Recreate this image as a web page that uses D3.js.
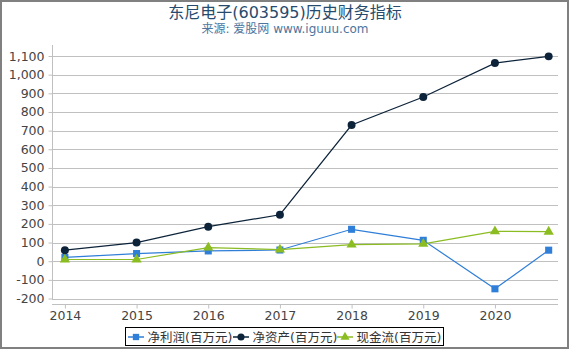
<!DOCTYPE html>
<html><head><meta charset="utf-8">
<script src="https://cdn.jsdelivr.net/npm/d3@7"></script>
<style>body{margin:0;background:#fff;}svg{display:block;font-family:"DejaVu Sans","Noto Sans CJK SC",sans-serif;}</style>
</head><body>
<svg id="c" width="570" height="350"></svg>
<script>
const years = [2014, 2015, 2016, 2017, 2018, 2019, 2020, 2020.75];
const tickYears = [2014, 2015, 2016, 2017, 2018, 2019, 2020];
const netProfit = [20, 41, 55, 60, 171, 112, -148, 59];
const netAssets = [59, 100, 185, 249, 730, 880, 1062, 1098];
const cashFlow = [9, 9, 73, 62, 89, 93, 160, 158];
const yTicks = [-200, -100, 0, 100, 200, 300, 400, 500, 600, 700, 800, 900, 1000, 1100];
const seriesNames = ["净利润(百万元)", "净资产(百万元)", "现金流(百万元)"];
const colors = ["#2f7ed8", "#0d233a", "#8bbc21"];

const svg = d3.select("#c");
svg.append("rect").attr("x",1).attr("y",1).attr("width",567).attr("height",347)
  .attr("fill","#fff").attr("stroke","#808080").attr("stroke-width",2);

const L=52, R=558, T=45, B=304;
const x = d3.scaleLinear().domain([2013.82, 2020.88]).range([L, R]);
const y = d3.scaleLinear().domain([-200, 1100]).range([298.5, 56]);
const fmt = d => d3.format(",")(d).replace("\u2212", "-");

// title
svg.append("text").attr("x",285).attr("y",18).attr("text-anchor","middle")
  .attr("fill","#274b6d").style("font-size","16px").text("东尼电子(603595)历史财务指标");
svg.append("text").attr("x",285).attr("y",33).attr("text-anchor","middle")
  .attr("fill","#4d759e").style("font-size","12px").text("来源: 爱股网 www.iguuu.com");

// grid
svg.append("g").selectAll("line").data(yTicks).join("line")
  .attr("x1",L).attr("x2",R).attr("y1",d=>Math.round(y(d))+0.5).attr("y2",d=>Math.round(y(d))+0.5)
  .attr("stroke","#c0c0c0").attr("stroke-width",1);

// y axis
const ya = svg.append("g").attr("transform",`translate(${L+0.5},0)`)
  .call(d3.axisLeft(y).tickValues(yTicks).tickSize(4).tickPadding(4).tickFormat(fmt));
ya.select(".domain").attr("stroke","#c0c0c0").attr("d",`M-0,${T}V300`);
ya.selectAll(".tick line").attr("stroke","#c0c0c0");
ya.selectAll("text").attr("fill","#444").style("font-size","12.5px").style("font-family","DejaVu Sans");

// x axis
const xa = svg.append("g").attr("transform",`translate(0,${B+0.5})`)
  .call(d3.axisBottom(x).tickValues(tickYears).tickSize(4).tickPadding(3).tickFormat(d3.format("d")));
xa.select(".domain").attr("stroke","#c0c0c0").attr("d",`M${L},0H${R}`);
xa.selectAll(".tick line").attr("stroke","#c0c0c0");
xa.selectAll("text").attr("fill","#444").style("font-size","12.5px").style("font-family","DejaVu Sans");

const allSeries = [netProfit, netAssets, cashFlow];
const line = d3.line().x((d,i)=>x(years[i])).y(d=>y(d));
const sym = [d3.symbolSquare, d3.symbolCircle, d3.symbolTriangle];
const symSize = [50, 50, 45];
allSeries.forEach((s,k)=>{
  svg.append("path").datum(s).attr("d",line).attr("fill","none")
    .attr("stroke",colors[k]).attr("stroke-width",1.2);
  svg.append("g").selectAll("path").data(s).join("path")
    .attr("transform",(d,i)=>`translate(${x(years[i])},${y(d)})`)
    .attr("d",d3.symbol().type(sym[k]).size(symSize[k])).attr("fill",colors[k]);
});

// legend
const lg = svg.append("g");
lg.append("rect").attr("x",125.5).attr("y",327.5).attr("width",318).attr("height",18)
  .attr("fill","#fff").attr("stroke","#000").attr("stroke-width",1);
const lx = [128, 233, 337];
seriesNames.forEach((n,k)=>{
  const g = lg.append("g").attr("transform",`translate(${lx[k]},337)`);
  g.append("line").attr("x1",0).attr("x2",16).attr("stroke",colors[k]).attr("stroke-width",1.5);
  g.append("path").attr("transform","translate(8,0)").attr("d",d3.symbol().type(sym[k]).size(symSize[k]*0.8)).attr("fill",colors[k]);
  g.append("text").attr("x",19.5).attr("y",4.5).attr("fill","#333").style("font-size","12.5px").text(n);
});
</script>
</body></html>
